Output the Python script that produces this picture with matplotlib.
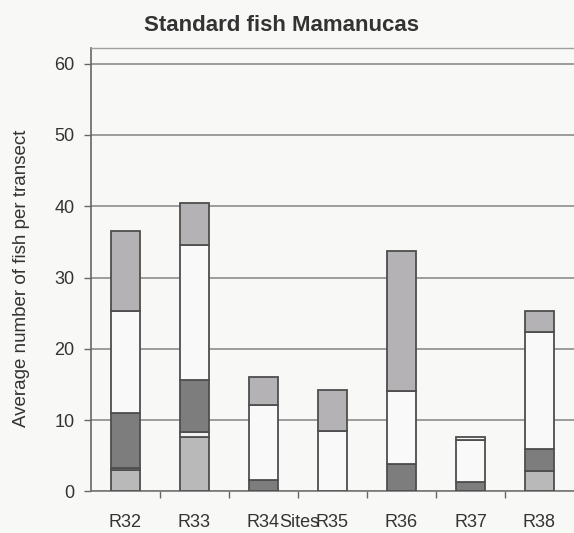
import numpy as np
import matplotlib
matplotlib.use("Agg")
import matplotlib.pyplot as plt

# data (bottom of stack first)
sites = ["R32", "R33", "R34", "R35", "R36", "R37", "R38"]
seg_base = [3.0, 7.6, 0, 0, 0, 0, 2.9]          # light grey, bottom
seg_thin = [0.3, 0.8, 0, 0, 0, 0, 0]            # thin pale slice
seg_dark = [7.7, 7.2, 1.6, 0, 3.8, 1.3, 3.0]    # dark grey
seg_white = [14.3, 19.0, 10.5, 8.5, 10.3, 5.9, 16.5]
seg_cap = [0, 0, 0, 0, 0, 0.5, 0]               # thin white cap on R37
seg_top = [11.2, 5.8, 4.0, 5.7, 19.6, 0, 2.9]   # light grey, top

series = [seg_base, seg_thin, seg_dark, seg_white, seg_cap, seg_top]
colors = ["#b9b9b9", "#f2efef", "#7d7d7d", "#f9f9f9", "#f9f9f9", "#b4b2b4"]

bg = "#f8f8f6"
narrow = ["Liberation Sans Narrow", "Liberation Sans", "DejaVu Sans"]

fig = plt.figure(figsize=(5.74, 5.33), dpi=100, facecolor=bg)
ax = fig.add_axes([0.1585, 0.0779, 0.8415, 0.8321])
ax.set_facecolor(bg)

x = np.arange(len(sites))
bottom = np.zeros(len(sites))
for vals, c in zip(series, colors):
    v = np.array(vals, dtype=float)
    keep = v > 0
    ax.bar(x[keep], v[keep], 0.42, bottom=bottom[keep], color=c,
           edgecolor="#4e4e4e", linewidth=1.3, zorder=3)
    bottom += v

ax.set_xlim(-0.5, 6.5)
ax.set_ylim(0, 62.2)
ax.set_yticks(range(0, 61, 10))
ax.yaxis.grid(True, color="#8c8c8c", linewidth=1.2, zorder=0)
ax.set_axisbelow(True)

ax.set_xticks(x)
ax.set_xticklabels(sites, family=narrow, fontsize=13, color="#333333")
ax.set_xticks(np.arange(0.5, 6.5, 1), minor=True)
ax.tick_params(axis="x", which="major", length=0, pad=16)
ax.tick_params(axis="x", which="minor", length=5, width=1, color="#666666",
               direction="out")
ax.tick_params(axis="y", length=5, width=1, color="#666666", pad=7,
               labelsize=13, labelcolor="#333333")
for lab in ax.get_yticklabels():
    lab.set_family(narrow)

ax.spines["right"].set_visible(False)
ax.spines["top"].set_color("#a0a0a0")
ax.spines["top"].set_linewidth(1)
ax.spines["left"].set_color("#666666")
ax.spines["left"].set_linewidth(1.2)
ax.spines["bottom"].set_color("#777777")
ax.spines["bottom"].set_linewidth(1.2)

fig.text(0.491, 0.953, "Standard fish Mamanucas", ha="center", va="center",
         fontsize=16, fontweight="bold", family=["Liberation Sans", "DejaVu Sans"],
         color="#333333")
fig.text(0.038, 0.478, "Average number of fish per transect", rotation=90,
         ha="center", va="center", fontsize=13.5, family=narrow, color="#333333")
fig.text(0.521, 0.019, "Sites", ha="center", va="center", fontsize=13,
         family=narrow, color="#333333")

fig.savefig("out.png", dpi=100, facecolor=bg)
